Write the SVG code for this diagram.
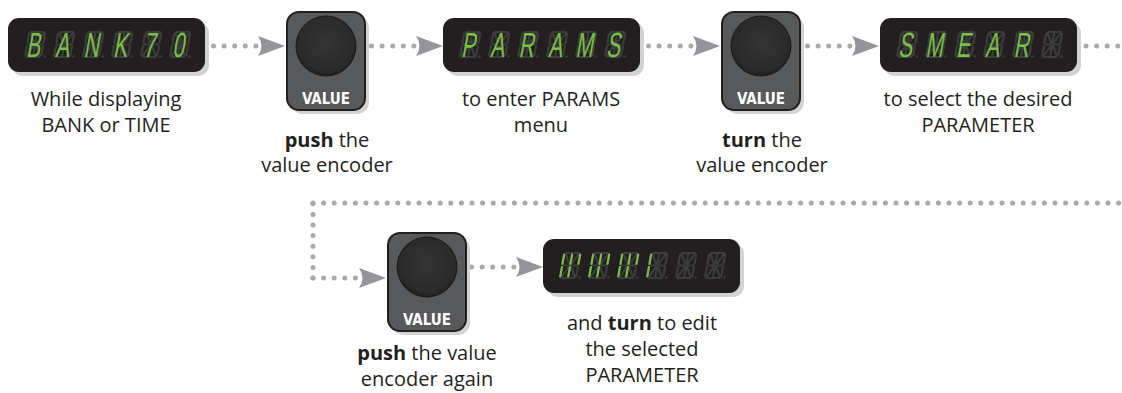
<svg xmlns="http://www.w3.org/2000/svg" xmlns:xlink="http://www.w3.org/1999/xlink" width="1122" height="393" viewBox="0 0 1122 393">
<style>
.bg{fill:#ffffff}
.lbl{font-family:"Open Sans","Liberation Sans",sans-serif;font-size:20px;fill:#231f20;text-anchor:middle}
.b{font-weight:bold}
.dots{fill:none;stroke:#a7a9ac;stroke-width:5;stroke-linecap:round;stroke-dasharray:0 10.6}
.head{fill:#939598}
.shadow{fill:#d1d3d4}
.dispbg{fill:#231f20}
.ghost{fill:none;stroke:#3d3c3c;stroke-width:2.2;stroke-linecap:round}
.ghostdp{fill:#3d3c3c}
.led{font-family:"Liberation Sans","DejaVu Sans",sans-serif;font-size:35px;fill:#77c043;text-anchor:middle}
.litseg{fill:none;stroke:#77c043;stroke-width:2.2;stroke-linecap:round}
.knob{fill:#58595b;stroke:#231f20;stroke-width:2}
.cap{fill:url(#kg);stroke:#1a1a1a;stroke-width:1}
.knobcap{font-family:"DejaVu Sans Condensed","DejaVu Sans",sans-serif;font-weight:bold;font-size:15px;fill:#ffffff;text-anchor:middle}
</style>
<defs>
  <radialGradient id="kg" cx="0.5" cy="0.45" r="0.55">
    <stop offset="0" stop-color="#343434"/>
    <stop offset="0.85" stop-color="#2a2a2a"/>
    <stop offset="1" stop-color="#1e1e1e"/>
  </radialGradient>
  <g id="cell" transform="skewX(-10)">
    <path class="ghost" d="M1.5,-25H14.5M1.5,0H14.5M0,-23.5V-14M0,-11V-1.5M16,-23.5V-14M16,-11V-1.5M1.5,-12.5H6.5M9.5,-12.5H14.5M8,-23.5V-14M8,-11V-1.5M2,-23L6.5,-14.5M14,-23L9.5,-14.5M6.5,-10.5L2,-2M9.5,-10.5L14,-2"/>
    <circle class="ghostdp" cx="19.5" cy="-0.5" r="1.3"/>
  </g>
  <g id="disp">
    <rect class="shadow" x="4" y="4" width="197" height="54" rx="11"/>
    <rect class="dispbg" x="0" y="0" width="197" height="54" rx="11"/>
    <use xlink:href="#cell" href="#cell" x="17" y="39"/>
    <use xlink:href="#cell" href="#cell" x="46" y="39"/>
    <use xlink:href="#cell" href="#cell" x="75" y="39"/>
    <use xlink:href="#cell" href="#cell" x="104" y="39"/>
    <use xlink:href="#cell" href="#cell" x="133" y="39"/>
    <use xlink:href="#cell" href="#cell" x="162" y="39"/>
  </g>
  <path id="bar3" class="litseg" transform="skewX(-10)" d="M0,-23.5V-14M0,-11V-1.5M8,-23.5V-14M8,-11V-1.5M16,-23.5V-14"/>
  <path id="bar1" class="litseg" transform="skewX(-10)" d="M0,-23.5V-14M0,-11V-1.5"/>
  <g id="knobshape">
    <rect class="shadow" x="4" y="4" width="78" height="98" rx="12"/>
    <rect class="knob" x="0" y="0" width="78" height="98" rx="12"/>
    <circle class="cap" cx="39" cy="34" r="30"/>
  </g>
  <path id="ah" class="head" d="M0,0L-27,-10Q-20,0 -27,10Z"/>
</defs>

<rect class="bg" x="0" y="0" width="1122" height="393"/>

<g id="connectors">
  <path class="dots" d="M213.5,46H256"/>
  <use xlink:href="#ah" href="#ah" x="285" y="46"/>
  <path class="dots" d="M371.5,46H414"/>
  <use xlink:href="#ah" href="#ah" x="443" y="46"/>
  <path class="dots" d="M648.5,46H691"/>
  <use xlink:href="#ah" href="#ah" x="720" y="46"/>
  <path class="dots" d="M807.5,46H850"/>
  <use xlink:href="#ah" href="#ah" x="879" y="46"/>
  <path class="dots" d="M1086,46H1130"/>
  <path class="dots" d="M313,203H1130"/>
  <path class="dots" d="M313,278V203"/>
  <path class="dots" d="M313,278H356"/>
  <use xlink:href="#ah" href="#ah" x="386" y="278"/>
  <path class="dots" d="M471.5,267H514"/>
  <use xlink:href="#ah" href="#ah" x="543" y="267"/>
</g>

<g id="node-bank">
  <use xlink:href="#disp" href="#disp" x="8" y="18"/>
  <text class="led" transform="translate(0,57) skewX(-10) scale(0.6,1)" x="55 103.33 151.67 200 248.33 296.67" y="0">BANK70</text>
  <text class="lbl" x="106" y="106">While displaying<tspan x="106" y="132">BANK or TIME</tspan></text>
</g>

<g id="node-push1">
  <use xlink:href="#knobshape" href="#knobshape" x="287" y="12"/>
  <text class="knobcap" x="326" y="104">VALUE</text>
  <text class="lbl" x="327" y="147"><tspan class="b">push</tspan> the<tspan x="327" y="172">value encoder</tspan></text>
</g>

<g id="node-params">
  <use xlink:href="#disp" href="#disp" x="443" y="18"/>
  <text class="led" transform="translate(0,57) skewX(-10) scale(0.6,1)" x="780 828.33 876.67 925 973.33 1021.67" y="0">PARAMS</text>
  <text class="lbl" x="541" y="106">to enter PARAMS<tspan x="541" y="132">menu</tspan></text>
</g>

<g id="node-turn1">
  <use xlink:href="#knobshape" href="#knobshape" x="722" y="12"/>
  <text class="knobcap" x="761" y="104">VALUE</text>
  <text class="lbl" x="762" y="147"><tspan class="b">turn</tspan> the<tspan x="762" y="172">value encoder</tspan></text>
</g>

<g id="node-smear">
  <use xlink:href="#disp" href="#disp" x="880" y="18"/>
  <text class="led" transform="translate(0,57) skewX(-10) scale(0.6,1)" x="1508.33 1556.67 1605 1653.33 1701.67" y="0">SMEAR</text>
  <text class="lbl" x="978" y="106">to select the desired<tspan x="978" y="132">PARAMETER</tspan></text>
</g>

<g id="node-push2">
  <use xlink:href="#knobshape" href="#knobshape" x="388" y="233"/>
  <text class="knobcap" x="427" y="325">VALUE</text>
  <text class="lbl" x="427" y="360"><tspan class="b">push</tspan> the value<tspan x="427" y="386">encoder again</tspan></text>
</g>

<g id="node-edit">
  <use xlink:href="#disp" href="#disp" x="543" y="239"/>
  <use xlink:href="#bar3" href="#bar3" x="560" y="278"/>
  <use xlink:href="#bar3" href="#bar3" x="589" y="278"/>
  <use xlink:href="#bar3" href="#bar3" x="618" y="278"/>
  <use xlink:href="#bar1" href="#bar1" x="647" y="278"/>
  <text class="lbl" x="642" y="330">and <tspan class="b">turn</tspan> to edit<tspan x="642" y="356">the selected</tspan><tspan x="642" y="382">PARAMETER</tspan></text>
</g>
</svg>
